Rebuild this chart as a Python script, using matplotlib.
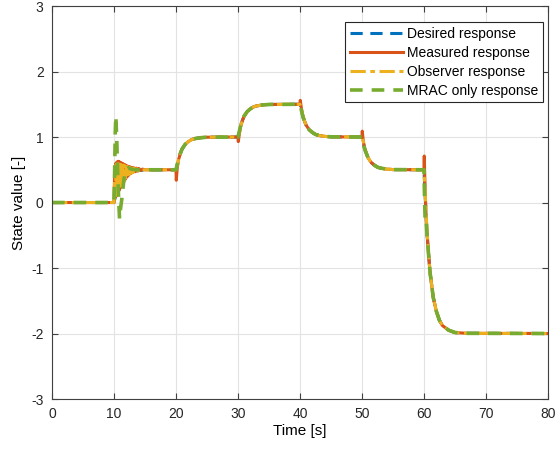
#!/usr/bin/env python3

import numpy as np
import matplotlib
matplotlib.use('Agg')
import matplotlib.pyplot as plt

plt.rcParams['font.family'] = ['Liberation Sans', 'DejaVu Sans']
plt.rcParams['axes.unicode_minus'] = False

# reference signal (time [s], value)
desired_t = [0, 10, 10.25, 10.5, 10.75, 11, 11.5, 12, 12.5, 13, 14, 15,
             20, 20.25, 20.5, 20.75, 21, 21.5, 22, 22.5, 23, 24, 25,
             30, 30.25, 30.5, 30.75, 31, 31.5, 32, 32.5, 33, 34, 35,
             40, 40.25, 40.5, 40.75, 41, 41.5, 42, 42.5, 43, 44, 45,
             50, 50.25, 50.5, 50.75, 51, 51.5, 52, 52.5, 53, 54, 55,
             60, 60.25, 60.5, 60.75, 61, 61.5, 62, 62.5, 63, 64, 65, 67, 80]
desired_y = [0, 0, 0.10, 0.20, 0.27, 0.32, 0.39, 0.43, 0.46, 0.475, 0.49, 0.497,
             0.5, 0.60, 0.70, 0.76, 0.82, 0.89, 0.93, 0.96, 0.975, 0.99, 0.997,
             1.0, 1.10, 1.20, 1.26, 1.32, 1.39, 1.43, 1.46, 1.475, 1.49, 1.497,
             1.5, 1.40, 1.30, 1.24, 1.18, 1.11, 1.07, 1.04, 1.025, 1.01, 1.003,
             1.0, 0.90, 0.80, 0.74, 0.68, 0.61, 0.57, 0.54, 0.525, 0.51, 0.503,
             0.5, 0.00, -0.48, -0.80, -1.08, -1.45, -1.66, -1.80, -1.88, -1.95, -1.985, -1.997, -2.0]

measured_t = [0, 10, 10.1, 10.2, 10.3, 10.4, 10.5, 10.6, 10.7, 10.8, 10.9, 11.0,
              11.1, 11.2, 11.3, 11.4, 11.5, 11.6, 11.7, 11.8, 11.9, 12.0, 12.1,
              12.2, 12.3, 12.4, 12.5, 12.6, 12.7, 12.8, 12.9, 13.0, 13.2, 13.4,
              13.6, 13.8, 14.0, 14.3, 14.6, 15,
              20, 20.05, 20.2, 20.4, 20.75, 21, 21.5, 22, 22.5, 23, 24, 25,
              30, 30.05, 30.2, 30.4, 30.75, 31, 31.5, 32, 32.5, 33, 34, 35,
              40, 40.05, 40.2, 40.4, 40.75, 41, 41.5, 42, 42.5, 43, 44, 45,
              50, 50.05, 50.2, 50.4, 50.75, 51, 51.5, 52, 52.5, 53, 54, 55,
              60, 60.05, 60.2, 60.4, 60.75, 61, 61.5, 62, 62.5, 63, 64, 65, 67, 80]
measured_y = [0, 0, 0.45, 0.08, 0.60, 0.10, 0.62, 0.15, 0.63, 0.18, 0.62, 0.22,
              0.61, 0.26, 0.60, 0.29, 0.59, 0.32, 0.58, 0.35, 0.57, 0.38, 0.56,
              0.40, 0.55, 0.42, 0.545, 0.44, 0.54, 0.45, 0.535, 0.46, 0.53, 0.47,
              0.525, 0.48, 0.52, 0.49, 0.51, 0.50,
              0.5, 0.34, 0.52, 0.65, 0.76, 0.82, 0.89, 0.93, 0.96, 0.975, 0.99, 0.997,
              1.0, 0.93, 1.03, 1.15, 1.26, 1.32, 1.39, 1.43, 1.46, 1.475, 1.49, 1.497,
              1.5, 1.56, 1.46, 1.35, 1.24, 1.18, 1.11, 1.07, 1.04, 1.025, 1.01, 1.003,
              1.0, 1.09, 0.95, 0.84, 0.74, 0.68, 0.61, 0.57, 0.54, 0.525, 0.51, 0.503,
              0.5, 0.71, 0.15, -0.32, -0.80, -1.08, -1.45, -1.66, -1.80, -1.88, -1.95, -1.985, -1.997, -2.0]

observer_t = [0, 10, 10.05, 10.15, 10.25, 10.35, 10.45, 10.55, 10.65, 10.75, 10.85,
              10.95, 11.05, 11.15, 11.25, 11.35, 11.45, 11.55, 11.65, 11.75, 11.85,
              11.95, 12.05, 12.15, 12.25, 12.35, 12.45, 12.55, 12.65, 12.75, 12.85,
              12.95, 13.1, 13.3, 13.5, 13.7, 13.9, 14.2, 14.6, 15,
              20, 20.25, 20.5, 20.75, 21, 21.5, 22, 22.5, 23, 24, 25,
              30, 30.25, 30.5, 30.75, 31, 31.5, 32, 32.5, 33, 34, 35,
              40, 40.25, 40.5, 40.75, 41, 41.5, 42, 42.5, 43, 44, 45,
              50, 50.25, 50.5, 50.75, 51, 51.5, 52, 52.5, 53, 54, 55,
              60, 60.25, 60.5, 60.75, 61, 61.5, 62, 62.5, 63, 64, 65, 67, 80]
observer_y = [0, 0, 0.05, 0.50, 0.10, 0.58, 0.14, 0.59, 0.18, 0.59, 0.22,
              0.58, 0.25, 0.58, 0.28, 0.57, 0.31, 0.57, 0.34, 0.56, 0.37,
              0.55, 0.39, 0.55, 0.41, 0.54, 0.43, 0.535, 0.44, 0.53, 0.45,
              0.525, 0.46, 0.52, 0.47, 0.515, 0.48, 0.51, 0.495, 0.50,
              0.5, 0.58, 0.69, 0.76, 0.82, 0.89, 0.93, 0.96, 0.975, 0.99, 0.997,
              1.0, 1.08, 1.19, 1.26, 1.32, 1.39, 1.43, 1.46, 1.475, 1.49, 1.497,
              1.5, 1.42, 1.31, 1.24, 1.18, 1.11, 1.07, 1.04, 1.025, 1.01, 1.003,
              1.0, 0.92, 0.81, 0.74, 0.68, 0.61, 0.57, 0.54, 0.525, 0.51, 0.503,
              0.5, 0.05, -0.45, -0.80, -1.08, -1.45, -1.66, -1.80, -1.88, -1.95, -1.985, -1.997, -2.0]

mrac_t = [0, 10, 10.1, 10.2, 10.3, 10.45, 10.6, 10.75, 10.9, 11.05, 11.3, 11.6,
          11.9, 12.3, 12.8, 13.5, 15,
          20, 20.25, 20.5, 20.75, 21, 21.5, 22, 22.5, 23, 24, 25,
          30, 30.25, 30.5, 30.75, 31, 31.5, 32, 32.5, 33, 34, 35,
          40, 40.25, 40.5, 40.75, 41, 41.5, 42, 42.5, 43, 44, 45,
          50, 50.25, 50.5, 50.75, 51, 51.5, 52, 52.5, 53, 54, 55,
          60, 60.1, 60.2, 60.35, 60.5, 60.75, 61, 61.5, 62, 62.5, 63, 64, 65, 67, 80]
mrac_y = [0, 0, 0.45, 1.05, 1.32, 0.95, 0.45, 0.05, -0.25, -0.10, 0.08, 0.35,
          0.50, 0.53, 0.51, 0.50, 0.50,
          0.5, 0.60, 0.70, 0.76, 0.82, 0.89, 0.93, 0.96, 0.975, 0.99, 0.997,
          1.0, 1.10, 1.20, 1.26, 1.32, 1.39, 1.43, 1.46, 1.475, 1.49, 1.497,
          1.5, 1.40, 1.30, 1.24, 1.18, 1.11, 1.07, 1.04, 1.025, 1.01, 1.003,
          1.0, 0.88, 0.80, 0.74, 0.68, 0.61, 0.57, 0.54, 0.525, 0.51, 0.503,
          0.5, 0.05, -0.30, -0.28, -0.50, -0.80, -1.08, -1.45, -1.66, -1.80, -1.88, -1.95, -1.985, -1.997, -2.0]

x_ticks = [0, 10, 20, 30, 40, 50, 60, 70, 80]
y_ticks = [-3, -2, -1, 0, 1, 2, 3]


def create_plot():
    fig = plt.figure(figsize=(5.56, 4.5), dpi=100)
    ax = fig.add_axes([0.0935, 0.1133, 0.892, 0.8733])

    ax.plot(desired_t, desired_y, '--', color='#0072BD', lw=2.2, dashes=(4, 2.5), label='Desired response')
    ax.plot(measured_t, measured_y, '-', color='#D95319', lw=2.2, label='Measured response')
    ax.plot(observer_t, observer_y, '-.', color='#EDB120', lw=2.2, dashes=(5, 1.5, 1.5, 1.5), label='Observer response')
    ax.plot(mrac_t, mrac_y, '--', color='#77AC30', lw=2.6, dashes=(3.5, 2.5), label='MRAC only response')

    ax.set_xlim(0, 80)
    ax.set_ylim(-3, 3)
    ax.set_xticks(x_ticks)
    ax.set_yticks(y_ticks)
    ax.set_xlabel('Time [s]', fontsize=11, labelpad=2)
    ax.set_ylabel('State value [-]', fontsize=11, labelpad=4)
    ax.tick_params(direction='in', top=True, right=True, labelsize=10, length=4,
                   color='#404040', labelcolor='#262626', pad=6)
    for s in ax.spines.values():
        s.set_color('#404040')
        s.set_linewidth(0.8)
    ax.grid(True, color='#e3e3e3', lw=0.8)
    ax.set_axisbelow(True)

    leg = ax.legend(loc='upper right', bbox_to_anchor=(0.990, 0.959), borderaxespad=0,
                    fontsize=10, fancybox=False, framealpha=1,
                    edgecolor='#262626', handlelength=3.8, handletextpad=0.3,
                    borderpad=0.35, labelspacing=0.35)
    leg.get_frame().set_linewidth(0.8)

    fig.savefig('out.png', dpi=100)
    plt.close(fig)


if __name__ == "__main__":
    create_plot()
